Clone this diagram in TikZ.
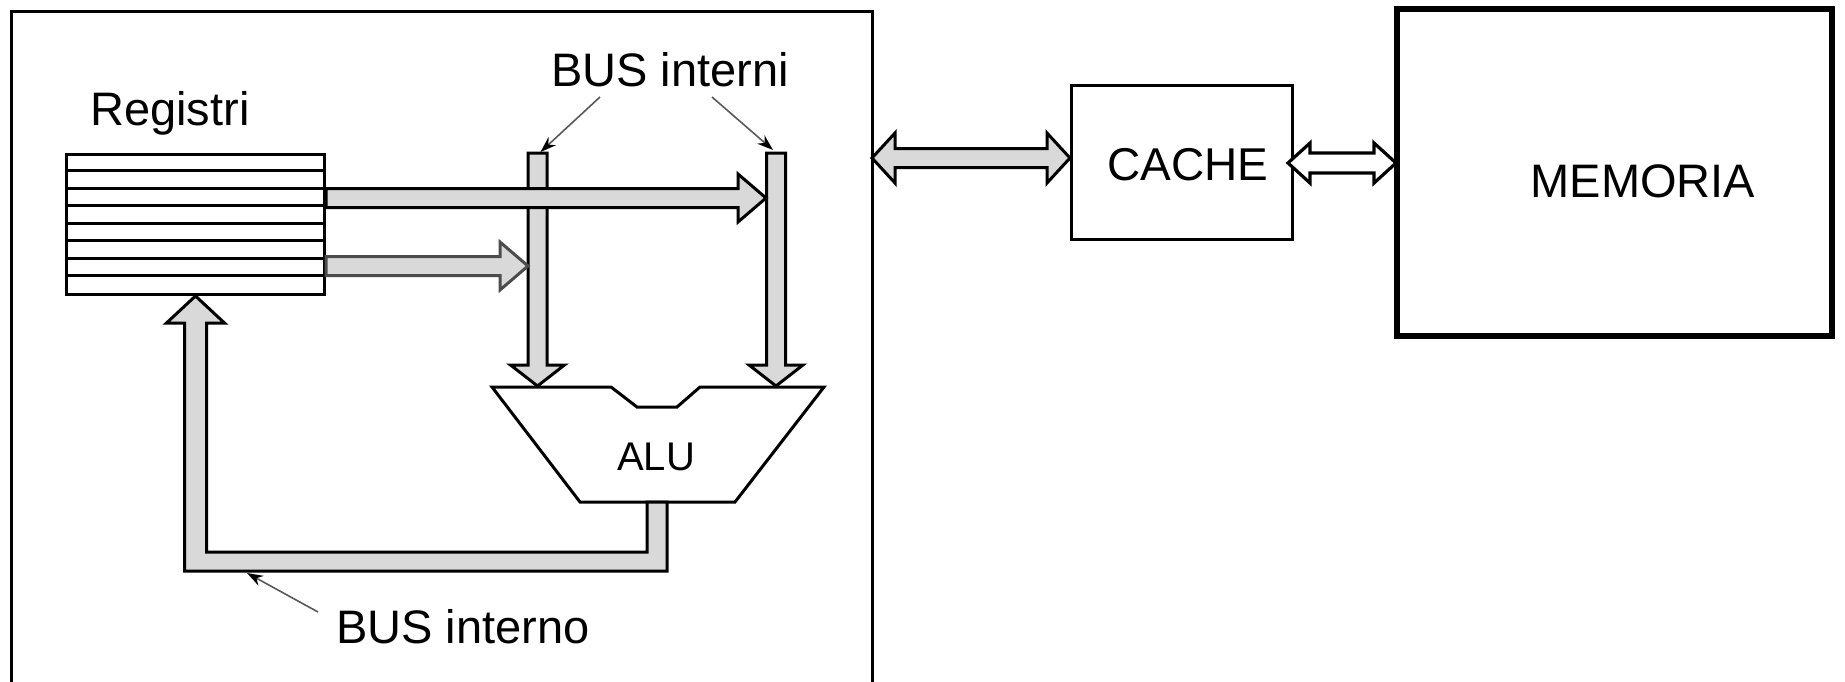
\documentclass[tikz,border=0pt]{standalone}
\usepackage{fontspec}
\setmainfont{Liberation Sans}
\usetikzlibrary{calc,arrows.meta}

% fat bus arrows, drawn as outlined polygons
% horizontal arrow pointing right: #2 = start, #3 = tip (same height)
\newcommand\busright[3][bus]{%
  \draw[#1] let \p1=(#2), \p2=(#3) in
    (\x1,\y1+9.5pt) -- (\x2-28pt,\y1+9.5pt) -- (\x2-28pt,\y1+24pt) -- (\x2,\y1)
    -- (\x2-28pt,\y1-24pt) -- (\x2-28pt,\y1-9.5pt) -- (\x1,\y1-9.5pt) -- cycle;}
% vertical arrow pointing down: #1 = top, #2 = tip (same x)
\newcommand\busdown[2]{%
  \draw[bus] let \p1=(#1), \p2=(#2) in
    (\x1-9.5pt,\y1) -- (\x1+9.5pt,\y1) -- (\x1+9.5pt,\y2+21pt) -- (\x1+27pt,\y2+21pt)
    -- (\x1,\y2) -- (\x1-27pt,\y2+21pt) -- (\x1-9.5pt,\y2+21pt) -- cycle;}
% double arrow between two tips: #1 style, #2 left tip, #3 right tip, #4 shaft half, #5 head half, #6 head length
\newcommand\busboth[6]{%
  \draw[#1] let \p1=(#2), \p2=(#3) in
    (\x1,\y1) -- (\x1+#6,\y1+#5) -- (\x1+#6,\y1+#4) -- (\x2-#6,\y1+#4) -- (\x2-#6,\y1+#5)
    -- (\x2,\y1) -- (\x2-#6,\y1-#5) -- (\x2-#6,\y1-#4) -- (\x1+#6,\y1-#4)
    -- (\x1+#6,\y1-#5) -- cycle;}

\tikzset{
  bus/.style={fill=black!15, draw=black, line width=3pt, line join=miter},
  bussoft/.style={fill=black!15, draw=black!70, line width=3pt, line join=miter},
  buswhite/.style={fill=white, draw=black, line width=3.2pt, line join=miter},
  box/.style={draw=black, line width=3pt, inner sep=0pt},
  lbl/.style={inner sep=0pt, font=\fontsize{47}{56}\selectfont},
  note/.style={draw=black!65, line width=1.6pt, -{Stealth[length=16pt,width=11pt,black]}},
}

\begin{document}
\begin{tikzpicture}[x=1pt,y=-1pt]
\useasboundingbox (0,0) rectangle (1845,681);
\clip (0,0) rectangle (1845,681);

% processor outline (runs past the lower edge)
\node[box, anchor=north west, minimum width=861pt, minimum height=720pt] (cpu) at (10,10) {};

% register file
\node[box, anchor=north west, minimum width=258pt, minimum height=140pt] (reg) at (65,153) {};
\foreach \i in {1,...,7}
  \draw[line width=3pt] ($(reg.north west)+(0,17.5*\i)$) -- ($(reg.north east)+(0,17.5*\i)$);
\node[lbl, anchor=base] (reglbl) at (170,125) {Registri};

% ALU
\draw[fill=white, draw=black, line width=3pt, line join=miter]
  (492,387) -- (611,387) -- (637,407) -- (677,407) -- (700,387) -- (824,387)
  -- (735,502) -- (580,502) -- cycle;
\coordinate (aluin1) at (537.5,386);
\coordinate (aluin2) at (776,386);
\coordinate (aluout) at (657,502);
\node[inner sep=0pt, anchor=base, font=\fontsize{40}{48}\selectfont] (alulbl) at (656,470) {ALU};

% internal buses feeding the ALU
\coordinate (bus1top) at (537.5,153);
\coordinate (bus2top) at (776,153);
\busdown{bus1top}{aluin1}
\busdown{bus2top}{aluin2}

% register outputs onto the buses
\coordinate (reg1out) at ($(reg.north east)+(0,45)$);
\coordinate (reg2out) at ($(reg.north east)+(0,113)$);
\coordinate (bus2in) at (766,198);
\coordinate (bus1in) at (528,266);
\busright{reg1out}{bus2in}
\busright[bussoft]{reg2out}{bus1in}

% result bus back to the registers
\draw[bus] let \p1=(aluout), \p2=(reg.south) in
  (\x1-10pt,\y1) -- (\x1-10pt,\y1-50pt) -- (\x2+11pt,\y1-50pt) -- (\x2+11pt,\y2-27pt)
  -- (\x2+29pt,\y2-27pt) -- (\x2,\y2) -- (\x2-29pt,\y2-27pt) -- (\x2-11pt,\y2-27pt)
  -- (\x2-11pt,\y1-69pt) -- (\x1+10pt,\y1-69pt) -- (\x1+10pt,\y1) -- cycle;

% bus labels
\node[lbl, anchor=base] (internilbl) at (670,86) {BUS interni};
\coordinate (n1from) at (600,97);
\coordinate (n2from) at (712,97);
\draw[note] (n1from) -- ($(bus1top)+(3,-1)$);
\draw[note] (n2from) -- ($(bus2top)+(-3,-3)$);
\node[lbl, anchor=base] (internolbl) at (463,643) {BUS interno};
\coordinate (n3from) at (318,612);
\coordinate (n3to) at (247,573);
\draw[note] (n3from) -- (n3to);

% cache and main memory
\node[box, minimum width=221pt, minimum height=154pt] (cache) at (1181.5,162) {};
\node[inner sep=0pt, anchor=base, font=\fontsize{46}{55}\selectfont] (cachelbl) at (1188,180) {CACHE};
\node[box, line width=6pt, minimum width=435pt, minimum height=327pt] (mem) at (1614.5,172) {};
\node[lbl, anchor=base] (memlbl) at (1643,197) {MEMORIA};

% processor <-> cache <-> memory
\coordinate (cpuport) at (872,158);
\coordinate (cacheinl) at (1070,158);
\coordinate (cacheout) at (1288,163);
\coordinate (memin) at (1396,163);
\busboth{bus}{cpuport}{cacheinl}{9.5pt}{25pt}{23pt}
\busboth{buswhite}{cacheout}{memin}{10pt}{20pt}{22pt}
\end{tikzpicture}
\end{document}
